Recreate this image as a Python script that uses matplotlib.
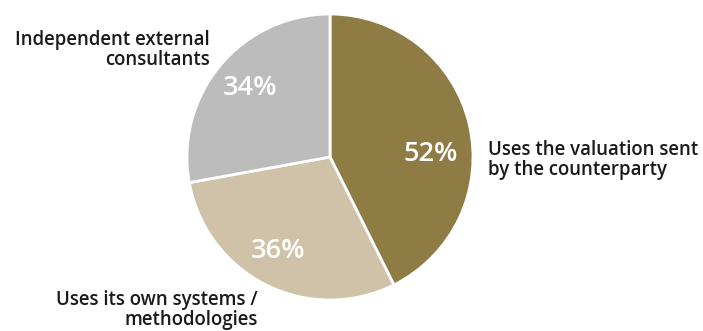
import matplotlib.pyplot as plt

labels = ["Uses the valuation sent\nby the counterparty",
          "Uses its own systems /\nmethodologies",
          "Independent external\nconsultants"]
values = [52, 36, 34]
colors = ["#8f7c45", "#cfc2a9", "#bbbcbb"]

fig = plt.figure(figsize=(7.03, 3.31), dpi=100)
fig.patch.set_facecolor("white")

# pie sits left of centre, radius ~143px
cx, cy, r = 330, 331 - 157, 143
ax = fig.add_axes([(cx - r) / 703, (cy - r) / 331, 2 * r / 703, 2 * r / 331])
ax.pie(values, colors=colors, startangle=90, counterclock=False,
       wedgeprops=dict(edgecolor="white", linewidth=2))
ax.set_xlim(-1, 1)
ax.set_ylim(-1, 1)
ax.set_aspect("equal")
ax.axis("off")

# percentage labels inside slices
pct_pos = [(0.705, 0.02), (-0.36, -0.66), (-0.56, 0.48)]
for v, (x, y) in zip(values, pct_pos):
    ax.text(x, y, f"{v}%", color="white", fontsize=19.5, fontweight="semibold",
            ha="center", va="center", family="Open Sans")

# category labels outside the pie
lab_pos = [(488, 160, "left"), (258, 310, "right"), (210, 50, "right")]
for lab, (x, y, ha) in zip(labels, lab_pos):
    fig.text(x / 703, 1 - y / 331, lab, ha=ha, va="center", multialignment=ha,
             fontsize=13.4, fontweight="semibold", color="#1a1a1a",
             family="Open Sans", linespacing=1.05)

fig.savefig("out.png", dpi=100)
